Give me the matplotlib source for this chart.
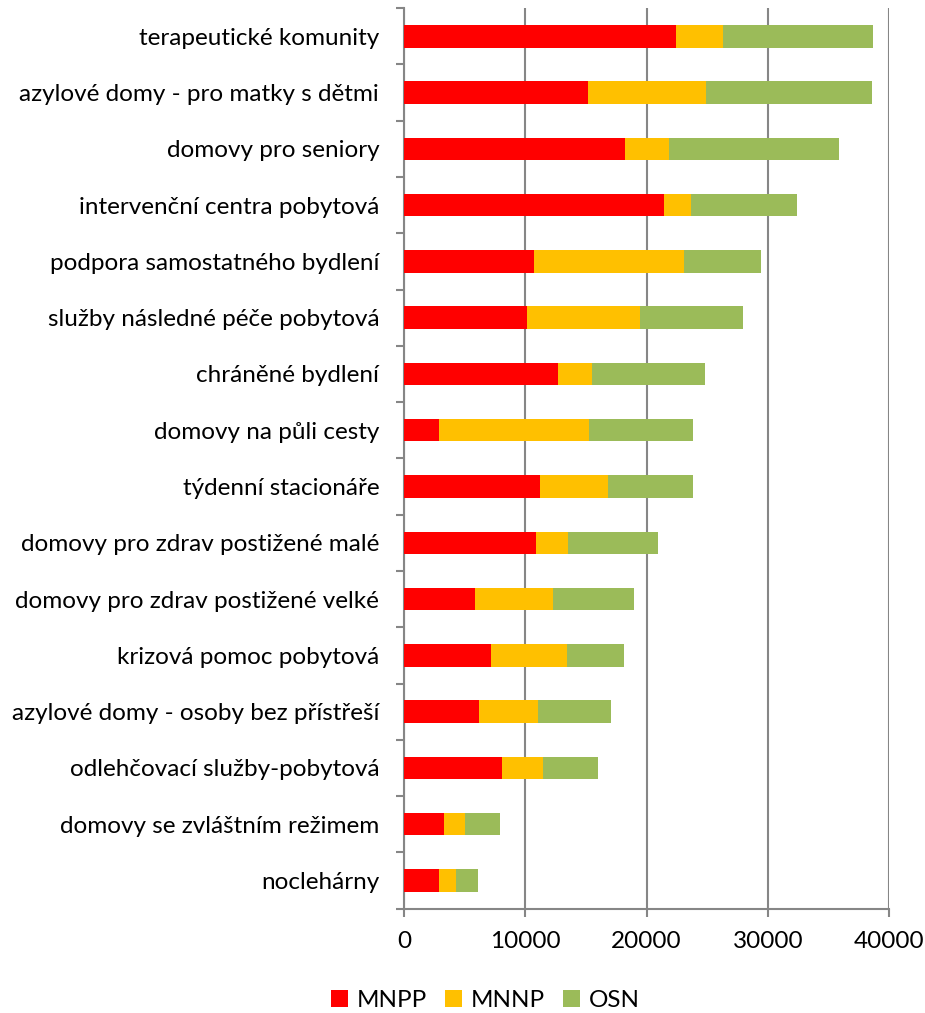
import numpy as np
import matplotlib.pyplot as plt

# Data (top to bottom as in the chart)
categories = [
    "terapeutické komunity",
    "azylové domy - pro matky s dětmi",
    "domovy pro seniory",
    "intervenční centra pobytová",
    "podpora samostatného bydlení",
    "služby následné péče pobytová",
    "chráněné bydlení",
    "domovy na půli cesty",
    "týdenní stacionáře",
    "domovy pro zdrav postižené malé",
    "domovy pro zdrav postižené velké",
    "krizová pomoc pobytová",
    "azylové domy - osoby bez přístřeší",
    "odlehčovací služby-pobytová",
    "domovy se zvláštním režimem",
    "noclehárny",
]
mnpp = [22430, 15200, 18210, 21410, 10680, 10150, 12660, 2900,
        11230, 10900, 5850, 7170, 6210, 8080, 3280, 2840]
mnnp = [3860, 9680, 3670, 2260, 12440, 9270, 2840, 12360,
        5570, 2590, 6400, 6240, 4800, 3340, 1710, 1440]
osn = [12410, 13710, 13990, 8770, 6350, 8520, 9300, 8610,
       7030, 7480, 6730, 4750, 6070, 4550, 2950, 1790]

series_names = ["MNPP", "MNNP", "OSN"]
colors = ["#FF0000", "#FFC000", "#9BBB59"]
axis_gray = "#868686"

plt.rcParams["font.family"] = ["Lato", "DejaVu Sans"]
fs = 17.5

fig = plt.figure(figsize=(9.25, 10.13), dpi=100)
ax = fig.add_axes([0.437, 0.103, 0.524, 0.889])

y = np.arange(len(categories))
left = np.zeros(len(categories))
for vals, name, col in zip([mnpp, mnnp, osn], series_names, colors):
    ax.barh(y, vals, left=left, height=0.4, color=col, label=name, zorder=3)
    left += np.array(vals)

ax.set_ylim(len(categories) - 0.5, -0.5)
ax.set_xlim(0, 40000)
ax.set_xticks([0, 10000, 20000, 30000, 40000])
ax.set_yticks(y)
ax.set_yticklabels(categories)
ax.set_yticks(np.arange(-0.5, len(categories)), minor=True)

ax.tick_params(axis="y", which="major", length=0, pad=18, labelsize=fs)
ax.tick_params(axis="y", which="minor", length=6, width=1.5, color=axis_gray)
ax.tick_params(axis="x", length=6, width=1.5, color=axis_gray, labelsize=fs, pad=10)

ax.grid(axis="x", color=axis_gray, linewidth=1.5, zorder=0)
for side in ["top", "right"]:
    ax.spines[side].set_visible(False)
for side in ["left", "bottom"]:
    ax.spines[side].set_color(axis_gray)
    ax.spines[side].set_linewidth(1.5)

fig.legend(loc="center", bbox_to_anchor=(0.525, 0.012), ncol=3, frameon=False,
           fontsize=fs, handlelength=0.7, handleheight=0.7, handletextpad=0.35,
           columnspacing=0.75)

fig.savefig("out.png", dpi=100)
